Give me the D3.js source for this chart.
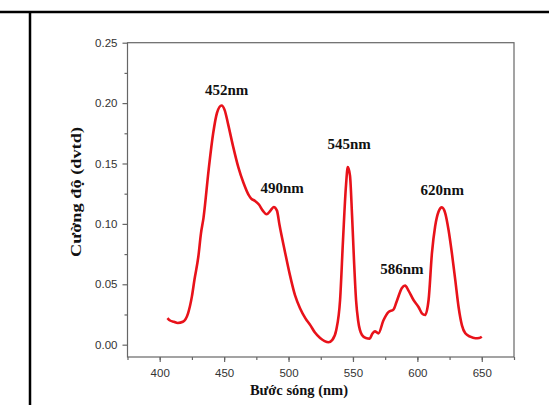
<!DOCTYPE html>
<html>
<head>
<meta charset="utf-8">
<script src="https://cdn.jsdelivr.net/npm/d3@7"></script>
<style>
  body { margin: 0; background: #fff; }
</style>
</head>
<body>
<div id="chart"></div>
<script>
// spectrum (wavelength nm, intensity a.u.)
var wavelength = [
  406, 408, 411, 414, 418, 422, 425, 427, 430, 432,
  434, 438, 441.5, 444.5, 448, 450.5, 453, 457, 461, 465,
  469, 471, 474, 477, 480, 483, 486, 488.5, 491, 493,
  497, 501, 505, 509, 513, 517, 520.5, 524.5, 528, 531,
  534, 537, 540, 542.3, 544.6, 546, 547.7, 549.3, 550.8, 552.4,
  554, 557, 560, 563, 565, 567, 569.8, 573.6, 577.5, 581.4,
  584, 588, 590.5, 593, 597, 601, 603.5, 606, 608.7, 611.3,
  613.8, 616.4, 619, 621.6, 624.2, 626.8, 629.4, 632, 634.6, 637.2,
  641, 645, 648, 650
];
var intensity = [
  0.022, 0.020, 0.019, 0.018, 0.019, 0.026, 0.040, 0.054, 0.073, 0.092,
  0.105, 0.145, 0.175, 0.192, 0.198, 0.194, 0.183, 0.164, 0.147, 0.134,
  0.124, 0.121, 0.119, 0.116, 0.111, 0.108, 0.111, 0.114, 0.111, 0.099,
  0.078, 0.058, 0.041, 0.030, 0.022, 0.016, 0.010, 0.0055, 0.003, 0.002,
  0.004, 0.012, 0.037, 0.087, 0.132, 0.147, 0.140, 0.107, 0.070, 0.037,
  0.020, 0.008, 0.0055, 0.005, 0.009, 0.011, 0.0094, 0.020, 0.027, 0.029,
  0.036, 0.047, 0.049, 0.045, 0.037, 0.031, 0.026, 0.0246, 0.037, 0.0757,
  0.098, 0.110, 0.1137, 0.109, 0.095, 0.0757, 0.0536, 0.031, 0.016, 0.0094,
  0.0066, 0.0053, 0.0055, 0.0066
];

// peak annotations
var peakLabels = ["452nm", "490nm", "545nm", "586nm", "620nm"];
var peakX = [452, 495, 547, 588, 619.3];
var peakY = [0.2067, 0.1256, 0.162, 0.0585, 0.124];

var xTicks = [400, 450, 500, 550, 600, 650];
var xMinor = [375, 400, 425, 450, 475, 500, 525, 550, 575, 600, 625, 650, 675];
var yTicks = [0, 0.05, 0.10, 0.15, 0.20, 0.25];
var yMinor = [0.025, 0.075, 0.125, 0.175, 0.225];

var width = 549, height = 405;

var svg = d3.select("#chart").append("svg")
    .attr("width", width)
    .attr("height", height);

// page border lines
svg.append("line").attr("x1", 0).attr("x2", width).attr("y1", 12).attr("y2", 12)
    .attr("stroke", "#000").attr("stroke-width", 2.5);
svg.append("line").attr("x1", 30).attr("x2", 30).attr("y1", 12).attr("y2", height)
    .attr("stroke", "#000").attr("stroke-width", 2.5);

var x = d3.scaleLinear().domain([375, 675]).range([127.5, 514]);
var y = d3.scaleLinear().domain([-0.0102, 0.25]).range([357, 42.7]);

var frameColor = "#666";

// frame
svg.append("rect")
    .attr("x", x(375)).attr("y", y(0.25))
    .attr("width", x(675) - x(375)).attr("height", y(-0.0102) - y(0.25))
    .attr("fill", "none").attr("stroke", frameColor).attr("stroke-width", 1.2);

// x axis
svg.append("g")
    .attr("transform", `translate(0,${y(-0.0102)})`)
    .call(d3.axisBottom(x).tickValues(xMinor).tickSize(3).tickFormat(""))
    .call(g => g.select(".domain").remove());
svg.append("g")
    .attr("transform", `translate(0,${y(-0.0102)})`)
    .call(d3.axisBottom(x).tickValues(xTicks).tickSize(5).tickPadding(7).tickFormat(d3.format("d")))
    .call(g => g.select(".domain").remove());

// y axis
svg.append("g")
    .attr("transform", `translate(${x(375)},0)`)
    .call(d3.axisLeft(y).tickValues(yMinor).tickSize(3).tickFormat(""))
    .call(g => g.select(".domain").remove());
svg.append("g")
    .attr("transform", `translate(${x(375)},0)`)
    .call(d3.axisLeft(y).tickValues(yTicks).tickSize(5).tickPadding(5).tickFormat(d3.format(".2f")))
    .call(g => g.select(".domain").remove());

svg.selectAll(".tick line").attr("stroke", frameColor).attr("stroke-width", 1.2);
svg.selectAll(".tick text")
    .attr("fill", "#333")
    .style("font-family", "'Liberation Sans', Arial, sans-serif")
    .style("font-size", "11.5px");

// spectrum
var pts = wavelength.map((w, i) => [w, intensity[i]]);
var line = d3.line()
    .x(d => x(d[0]))
    .y(d => y(d[1]))
    .curve(d3.curveMonotoneX);

svg.append("path")
    .datum(pts)
    .attr("d", line)
    .attr("fill", "none")
    .attr("stroke", "#e8121a")
    .attr("stroke-width", 2.6)
    .attr("stroke-linejoin", "round");

// peak labels
svg.append("g").selectAll("text")
    .data(peakLabels)
    .join("text")
    .attr("x", (d, i) => x(peakX[i]))
    .attr("y", (d, i) => y(peakY[i]))
    .attr("text-anchor", "middle")
    .style("font-family", "'Liberation Serif', 'Times New Roman', serif")
    .style("font-weight", "bold")
    .style("font-size", "15px")
    .attr("fill", "#111")
    .text(d => d);

// axis titles
svg.append("text")
    .attr("x", 299).attr("y", 395)
    .attr("text-anchor", "middle")
    .style("font-family", "'Liberation Serif', 'Times New Roman', serif")
    .style("font-weight", "bold")
    .style("font-size", "14.5px")
    .attr("fill", "#111")
    .text("Bước sóng (nm)");

svg.append("text")
    .attr("transform", "translate(81,192) rotate(-90)")
    .attr("text-anchor", "middle")
    .attr("textLength", 130)
    .attr("lengthAdjust", "spacingAndGlyphs")
    .style("font-family", "'Liberation Serif', 'Times New Roman', serif")
    .style("font-weight", "bold")
    .style("font-size", "14px")
    .attr("fill", "#111")
    .text("Cường độ (dvtd)");
</script>
</body>
</html>
